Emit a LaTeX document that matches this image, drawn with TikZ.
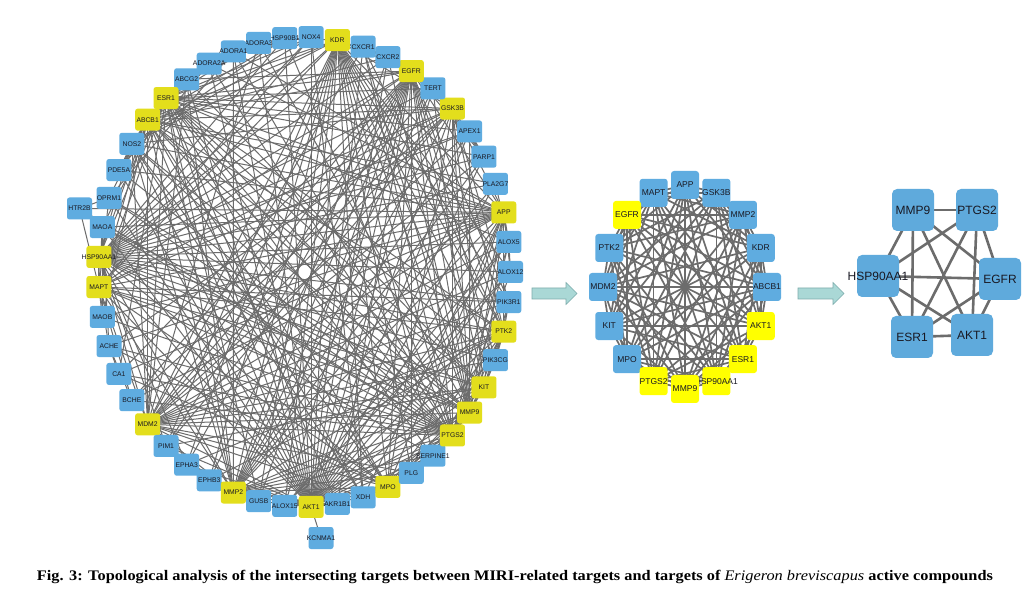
\documentclass[tikz,border=0pt]{standalone}
\usepackage{fontspec}
\usepackage{graphicx}
\setmainfont{Liberation Serif}
\newfontfamily\arialf{Liberation Sans}
\pgfdeclarelayer{bg}
\pgfdeclarelayer{edges}
\pgfsetlayers{bg,edges,main}
\definecolor{bigB}{RGB}{95,172,224}
\definecolor{bigY}{RGB}{227,222,28}
\definecolor{midB}{RGB}{95,172,224}
\definecolor{midY}{RGB}{255,255,0}
\definecolor{rgtB}{RGB}{95,170,220}
\definecolor{egray}{RGB}{108,108,108}
\definecolor{arrfill}{RGB}{170,216,214}
\definecolor{arrdraw}{RGB}{125,172,172}
\definecolor{ntext}{RGB}{25,25,35}
\tikzset{
  bnode/.style={rectangle, rounded corners=2.5pt, minimum width=25pt, minimum height=22pt,
    inner sep=0pt, text=ntext, font=\arialf\fontsize{6.8}{7}\selectfont},
  mnode/.style={rectangle, rounded corners=3pt, minimum width=28pt, minimum height=28pt,
    inner sep=0pt, text=ntext, font=\arialf\fontsize{8.5}{9}\selectfont},
  rnode/.style={rectangle, rounded corners=5pt, minimum width=42pt, minimum height=42pt,
    inner sep=0pt, text=ntext, fill=rgtB, font=\arialf\fontsize{12}{13}\selectfont},
  bedge/.style={draw=egray, line width=1.0pt},
  medge/.style={draw=egray, line width=1.7pt},
  redge/.style={draw=egray, line width=2.6pt},
  flowarrow/.style={fill=arrfill, draw=arrdraw, line width=0.6pt, line join=miter}
}
\begin{document}
\begin{tikzpicture}[x=1pt,y=-1pt]
\path[use as bounding box] (0,0) rectangle (1028,601);
\begin{pgfonlayer}{bg}
\fill[white] (0,0) rectangle (1028,601);
\end{pgfonlayer}

% ---------- big network ----------
\foreach \k/\n/\c in {0/ALOX12/B,1/ALOX5/B,2/APP/Y,3/PLA2G7/B,4/PARP1/B,5/APEX1/B,6/GSK3B/Y,7/TERT/B,8/EGFR/Y,9/CXCR2/B,10/CXCR1/B,11/KDR/Y,12/NOX4/B,13/HSP90B1/B,14/ADORA3/B,15/ADORA1/B,16/ADORA2A/B,17/ABCG2/B,18/ESR1/Y,19/ABCB1/Y,20/NOS2/B,21/PDE5A/B,22/OPRM1/B,23/MAOA/B,24/HSP90AA1/Y,25/MAPT/Y,26/MAOB/B,27/ACHE/B,28/CA1/B,29/BCHE/B,30/MDM2/Y,31/PIM1/B,32/EPHA3/B,33/EPHB3/B,34/MMP2/Y,35/GUSB/B,36/ALOX15/B,38/AKR1B1/B,37/AKT1/Y,39/XDH/B,40/MPO/Y,41/PLG/B,42/SERPINE1/B,43/PTGS2/Y,44/MMP9/Y,45/KIT/Y,46/PIK3CG/B,47/PTK2/Y,48/PIK3R1/B}
  \node[bnode, fill=big\c] (b\n) at ({304.5+206*cos(\k*7.346939)}, {272-235*sin(\k*7.346939)}) {\makebox[0pt]{\n}};
\node[bnode, fill=bigB] (bHTR2B) at (79.5,208.5) {\makebox[0pt]{HTR2B}};
\node[bnode, fill=bigB] (bKCNMA1) at (321,538) {\makebox[0pt]{KCNMA1}};

\begin{pgfonlayer}{edges}
\foreach \h/\l in {
 AKT1/{NOX4,KDR,CXCR1,CXCR2,EGFR,TERT,GSK3B,APEX1,PARP1,APP,ALOX5,PIK3R1,PTK2,PIK3CG,KIT,MMP9,PTGS2,SERPINE1,MPO,XDH,KCNMA1,MMP2,PIM1,MDM2,MAPT,HSP90AA1,OPRM1,NOS2,ABCB1,ESR1,ABCG2,HSP90B1,PDE5A,ADORA1,ADORA2A,ADORA3,EPHA3,EPHB3,PLA2G7,MAOA,ALOX12,GUSB,AKR1B1},
 HSP90AA1/{NOX4,KDR,EGFR,TERT,GSK3B,APEX1,PARP1,APP,PIK3R1,PTK2,PIK3CG,KIT,MMP9,PTGS2,SERPINE1,MPO,MMP2,MDM2,MAPT,ESR1,ABCB1,NOS2,HSP90B1,CXCR1,ALOX5,EPHA3,PIM1,ALOX12,PLA2G7,CXCR2},
 KDR/{EGFR,GSK3B,APP,PTK2,PIK3R1,PIK3CG,KIT,MMP9,PTGS2,MPO,MMP2,MDM2,MAPT,ESR1,ABCB1,EPHB3,EPHA3,SERPINE1,PLG,NOS2,CXCR2,HSP90B1,ALOX12,XDH,GUSB,PIM1,ALOX15},
 EGFR/{GSK3B,APP,PTK2,PIK3R1,KIT,MMP9,PTGS2,MPO,MMP2,MDM2,MAPT,ESR1,ABCB1,EPHB3,EPHA3,TERT,CXCR1,CXCR2,PARP1,ABCG2,PIM1,PIK3CG,PLG,GUSB,AKR1B1,ALOX15,BCHE,CA1},
 GSK3B/{APP,PTK2,MAPT,MDM2,ESR1,MMP9,PTGS2,MMP2,PIK3R1,TERT,PARP1,NOS2,ACHE,BCHE,KIT,MPO,ABCB1,PIM1},
 APP/{PTK2,MAPT,MDM2,ESR1,MMP9,PTGS2,MMP2,MPO,ACHE,BCHE,MAOA,MAOB,ALOX5,ALOX12,PLG,CA1,ADORA1,ADORA2A,NOS2,XDH,HTR2B,ABCB1,KIT,PDE5A},
 PTK2/{KIT,MMP9,PTGS2,MMP2,MDM2,ESR1,PIK3R1,PIK3CG,SERPINE1,EPHA3,EPHB3,MAPT,ABCB1,MPO,CXCR1},
 KIT/{MMP9,MMP2,MDM2,PIK3R1,PIK3CG,ESR1,PTGS2,ABCB1,ABCG2,PIM1,MAPT,MPO},
 MMP9/{PTGS2,MMP2,MDM2,MPO,ESR1,SERPINE1,PLG,ABCB1,TERT,MAPT,NOS2,ALOX5,GUSB,XDH,CXCR2,CXCR1,APEX1,ADORA3,OPRM1,MAOA},
 PTGS2/{MMP2,MDM2,MPO,ESR1,ABCB1,ALOX5,ALOX12,ALOX15,NOS2,XDH,PDE5A,CA1,ACHE,OPRM1,HTR2B,MAOA,ADORA2A,SERPINE1,PLG,CXCR1,MAPT,ADORA1,MAOB,BCHE,HSP90B1},
 MPO/{MMP2,ESR1,XDH,NOS2,PLG,SERPINE1,ALOX15,MAPT,ABCB1,MDM2,ACHE,CA1},
 MMP2/{MDM2,ESR1,ABCB1,SERPINE1,PLG,MAPT,TERT,GUSB,PIM1,EPHB3,NOS2,CXCR2,ADORA1,PARP1,ABCG2,APEX1,PLA2G7},
 MDM2/{ESR1,ABCB1,MAPT,TERT,PARP1,APEX1,PIM1,PIK3R1,NOS2,ADORA3,ABCG2,CXCR1,ALOX12,PIK3CG,ALOX5,PLG,XDH},
 MAPT/{ESR1,ABCB1,ACHE,BCHE,MAOB,MAOA,HTR2B,OPRM1,NOX4,PIK3R1,APEX1},
 ESR1/{ABCB1,ABCG2,TERT,PARP1,NOS2,PDE5A,MAOA,CA1,APEX1,ALOX5,NOX4,ADORA3,GUSB,PIK3CG,SERPINE1,AKR1B1},
 ABCB1/{ABCG2,NOS2,PDE5A,OPRM1,MAOB,XDH,HSP90B1,ADORA2A,CXCR2,PLA2G7},
 ADORA1/{ADORA2A,ADORA3,OPRM1}, ADORA2A/{ADORA3,PDE5A}, MAOA/{MAOB,HTR2B,ACHE},
 ACHE/{BCHE,CA1}, ALOX5/{ALOX12,ALOX15,PLA2G7}, ALOX12/{ALOX15}, PIK3R1/{PIK3CG},
 NOX4/{XDH,NOS2}, NOS2/{HSP90B1,PDE5A,XDH}, TERT/{PARP1,APEX1}, APEX1/{PARP1},
 SERPINE1/{PLG}, CXCR1/{CXCR2}, EPHA3/{EPHB3}, OPRM1/{HTR2B}}
 {\foreach \t in \l {\draw[bedge] (b\h.center) -- (b\t.center);}}
\end{pgfonlayer}

% ---------- middle network ----------
\foreach \k/\n/\c in {0/ABCB1/B,1/KDR/B,2/MMP2/B,3/GSK3B/B,4/APP/B,5/MAPT/B,6/EGFR/Y,7/PTK2/B,8/MDM2/B,9/KIT/B,10/MPO/B,11/PTGS2/Y,13/HSP90AA1/Y,12/MMP9/Y,14/ESR1/Y,15/AKT1/Y}
  \node[mnode, fill=mid\c] (m\k) at ({685+82*cos(\k*22.5)}, {287-102*sin(\k*22.5)}) {\makebox[0pt]{\n}};

\begin{pgfonlayer}{edges}
\foreach \i in {0,...,15}{
  \foreach \d in {1,...,8}{
    \pgfmathtruncatemacro\j{mod(\i+\d,16)}
    \pgfmathtruncatemacro\ok{((\d==1) || ((\d<8) && (mod(\i*7+\d*3,5)!=0)) || ((\d==8) && (\i<8))) ? 1 : 0}
    \ifnum\ok=1 \draw[medge] (m\i.center) -- (m\j.center);\fi
  }
}
\end{pgfonlayer}

% ---------- right network ----------
\node[rnode] (rMMP9) at (913,210) {MMP9};
\node[rnode] (rPTGS2) at (977,210) {PTGS2};
\node[rnode] (rHSP) at (878,276) {\makebox[0pt]{HSP90AA1}};
\node[rnode] (rEGFR) at (1000,279) {EGFR};
\node[rnode] (rESR1) at (912,337) {ESR1};
\node[rnode] (rAKT1) at (972,335) {AKT1};
\begin{pgfonlayer}{edges}
\foreach \a/\b in {MMP9/PTGS2,MMP9/HSP,MMP9/EGFR,MMP9/ESR1,MMP9/AKT1,PTGS2/HSP,PTGS2/EGFR,PTGS2/ESR1,PTGS2/AKT1,HSP/EGFR,HSP/ESR1,HSP/AKT1,EGFR/ESR1,EGFR/AKT1,ESR1/AKT1}
  \draw[redge] (r\a.center) -- (r\b.center);
\end{pgfonlayer}

% ---------- flow arrows ----------
\draw[flowarrow] (532,288) -- (566,288) -- (566,282.5) -- (577,293.5) -- (566,304.5) -- (566,299) -- (532,299) -- cycle;
\draw[flowarrow] (798,288) -- (833,288) -- (833,282.5) -- (844,293.5) -- (833,304.5) -- (833,299) -- (798,299) -- cycle;

% ---------- caption ----------
\node[font=\bfseries\fontsize{14.6}{16}\selectfont, inner sep=0pt] (cap) at (515,577)
  {\resizebox{956pt}{\height}{Fig. 3: Topological analysis of the intersecting targets between MIRI-related targets and targets of {\mdseries\itshape Erigeron breviscapus} active compounds}};
\end{tikzpicture}
\end{document}
